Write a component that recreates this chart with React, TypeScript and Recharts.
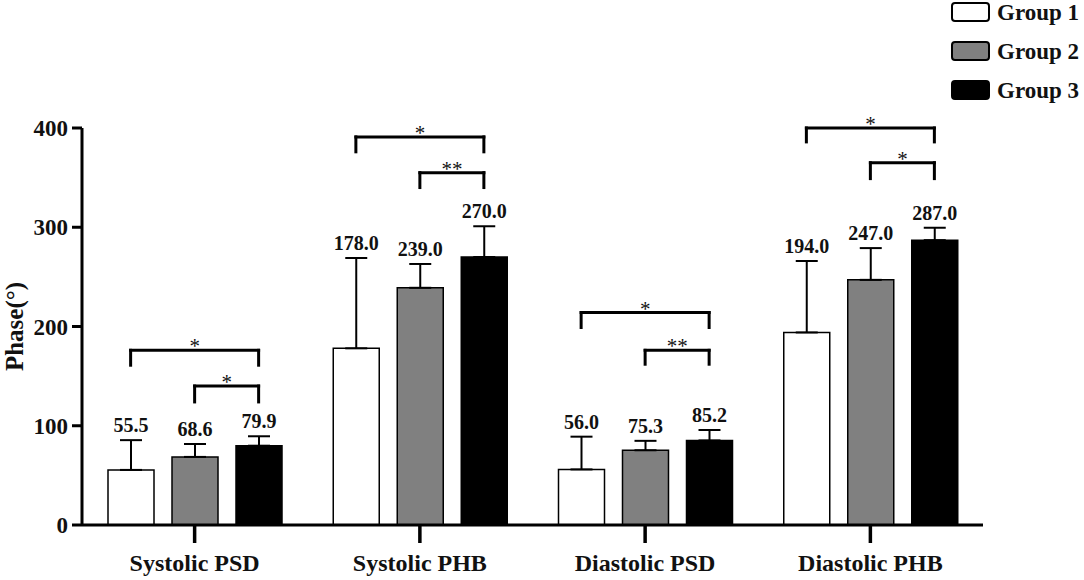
import React from "react";
import {
  BarChart,
  Bar,
  XAxis,
  YAxis,
  ErrorBar,
  LabelList,
  ReferenceLine,
  Legend,
} from "recharts";

const categories = ["Systolic PSD", "Systolic PHB", "Diastolic PSD", "Diastolic PHB"];
const groups = ["Group 1", "Group 2", "Group 3"];

const group1 = [55.5, 178.0, 56.0, 194.0];
const group2 = [68.6, 239.0, 75.3, 247.0];
const group3 = [79.9, 270.0, 85.2, 287.0];

// upper SD only (drawn one-sided like the original)
const sd1 = [30, 91, 33, 72];
const sd2 = [13, 24, 9.5, 32];
const sd3 = [9.5, 31, 10.5, 12.5];

const yTicks = [0, 100, 200, 300, 400];

// significance brackets: category index, from group, to group, bracket level, leg end, mark
const brackets = [
  { cat: 0, from: 0, to: 2, level: 176, leg: 161, mark: "*" },
  { cat: 0, from: 1, to: 2, level: 140, leg: 124, mark: "*" },
  { cat: 1, from: 0, to: 2, level: 391, leg: 376, mark: "*" },
  { cat: 1, from: 1, to: 2, level: 355, leg: 340, mark: "**" },
  { cat: 2, from: 0, to: 2, level: 214, leg: 199, mark: "*" },
  { cat: 2, from: 1, to: 2, level: 176, leg: 162, mark: "**" },
  { cat: 3, from: 0, to: 2, level: 400, leg: 386, mark: "*" },
  { cat: 3, from: 1, to: 2, level: 365, leg: 349, mark: "*" },
];

const fills = ["#ffffff", "#808080", "#000000"];
const values = [group1, group2, group3];
const sds = [sd1, sd2, sd3];

const FONT = "'Liberation Serif', 'Times New Roman', serif";
const W = 1084;
const H = 580;
const margin = { top: 128, right: 101, bottom: 0, left: 0 };
const yAxisWidth = 82;
const barSize = 46;
const barGap = 18;

const rows = categories.map((name, i) => ({
  name,
  pos: i + 0.5,
  g1: group1[i],
  g2: group2[i],
  g3: group3[i],
  e1: [0, sd1[i]],
  e2: [0, sd2[i]],
  e3: [0, sd3[i]],
}));

// position of a bar centre on a 0..4 numeric axis laid over the category bands
const bandWidth = (W - margin.left - yAxisWidth - margin.right) / categories.length;
const barCenter = (cat: number, g: number) => cat + 0.5 + ((g - 1) * (barSize + barGap)) / bandWidth;

const valueLabel = (g: number) => (p: any) => {
  const vb = p.viewBox ?? p;
  const i = p.index;
  const v = values[g][i];
  const pxPerUnit = vb.height / v;
  const top = vb.y - sds[g][i] * pxPerUnit;
  return (
    <text
      x={vb.x + vb.width / 2}
      y={top - 8}
      textAnchor="middle"
      fontFamily={FONT}
      fontWeight="bold"
      fontSize={20}
      fill="#111"
    >
      {v.toFixed(1)}
    </text>
  );
};

function LegendBox() {
  return (
    <svg width={134} height={110}>
      {groups.map((g, i) => (
        <g key={g}>
          <rect
            x={3}
            y={3 + i * 39}
            width={37}
            height={18}
            rx={3}
            fill={fills[i]}
            stroke="#000"
            strokeWidth={2}
          />
          <text x={48} y={20 + i * 39} fontFamily={FONT} fontWeight="bold" fontSize={23} fill="#111">
            {g}
          </text>
        </g>
      ))}
    </svg>
  );
}

export default function App() {
  return (
    <div style={{ width: W, height: H, background: "#fff" }}>
      <style>{`body{margin:0}`}</style>
      <BarChart width={W} height={H} data={rows} margin={margin} barGap={barGap}>
        <XAxis
          dataKey="name"
          height={55}
          axisLine={{ stroke: "#000", strokeWidth: 3 }}
          tickLine={{ stroke: "#000", strokeWidth: 3.5 }}
          tickSize={18}
          tickMargin={11}
          tick={{ fill: "#111", fontFamily: FONT, fontWeight: "bold", fontSize: 24 }}
        />
        <XAxis xAxisId="n" dataKey="pos" type="number" domain={[0, 4]} allowDataOverflow hide />
        <YAxis
          width={yAxisWidth}
          domain={[0, 400]}
          ticks={yTicks}
          allowDataOverflow
          axisLine={{ stroke: "#000", strokeWidth: 3 }}
          tickLine={{ stroke: "#000", strokeWidth: 3 }}
          tickSize={10}
          tickMargin={4}
          tick={{ fill: "#111", fontFamily: FONT, fontWeight: "bold", fontSize: 23 }}
          label={{
            value: "Phase(°)",
            angle: -90,
            position: "insideLeft",
            offset: 14,
            style: { textAnchor: "middle", fill: "#111", fontFamily: FONT, fontWeight: "bold", fontSize: 25 },
          }}
        />
        <Legend
          layout="horizontal"
          align="center"
          verticalAlign="middle"
          wrapperStyle={{ left: 949, top: 0, width: 134, height: 110 }}
          content={() => <LegendBox />}
        />
        {["g1", "g2", "g3"].map((k, g) => (
          <Bar
            key={k}
            dataKey={k}
            name={groups[g]}
            fill={fills[g]}
            stroke="#000"
            strokeWidth={1.5}
            barSize={barSize}
            isAnimationActive={false}
          >
            <ErrorBar dataKey={`e${g + 1}`} width={11} stroke="#000" strokeWidth={2} isAnimationActive={false} />
            <LabelList dataKey={k} content={valueLabel(g)} />
          </Bar>
        ))}
        {brackets.map((b, i) => {
          const x1 = barCenter(b.cat, b.from);
          const x2 = barCenter(b.cat, b.to);
          const line = { xAxisId: "n", stroke: "#000", strokeWidth: 3, strokeLinecap: "square" as const };
          return (
            <React.Fragment key={i}>
              <ReferenceLine {...line} segment={[{ x: x1, y: b.leg }, { x: x1, y: b.level }]} />
              <ReferenceLine {...line} segment={[{ x: x2, y: b.leg }, { x: x2, y: b.level }]} />
              <ReferenceLine
                {...line}
                segment={[{ x: x1, y: b.level }, { x: x2, y: b.level }]}
                label={{ value: b.mark, position: "top", offset: -3, fill: "#111", fontFamily: FONT, fontSize: 21 }}
              />
            </React.Fragment>
          );
        })}
      </BarChart>
    </div>
  );
}
